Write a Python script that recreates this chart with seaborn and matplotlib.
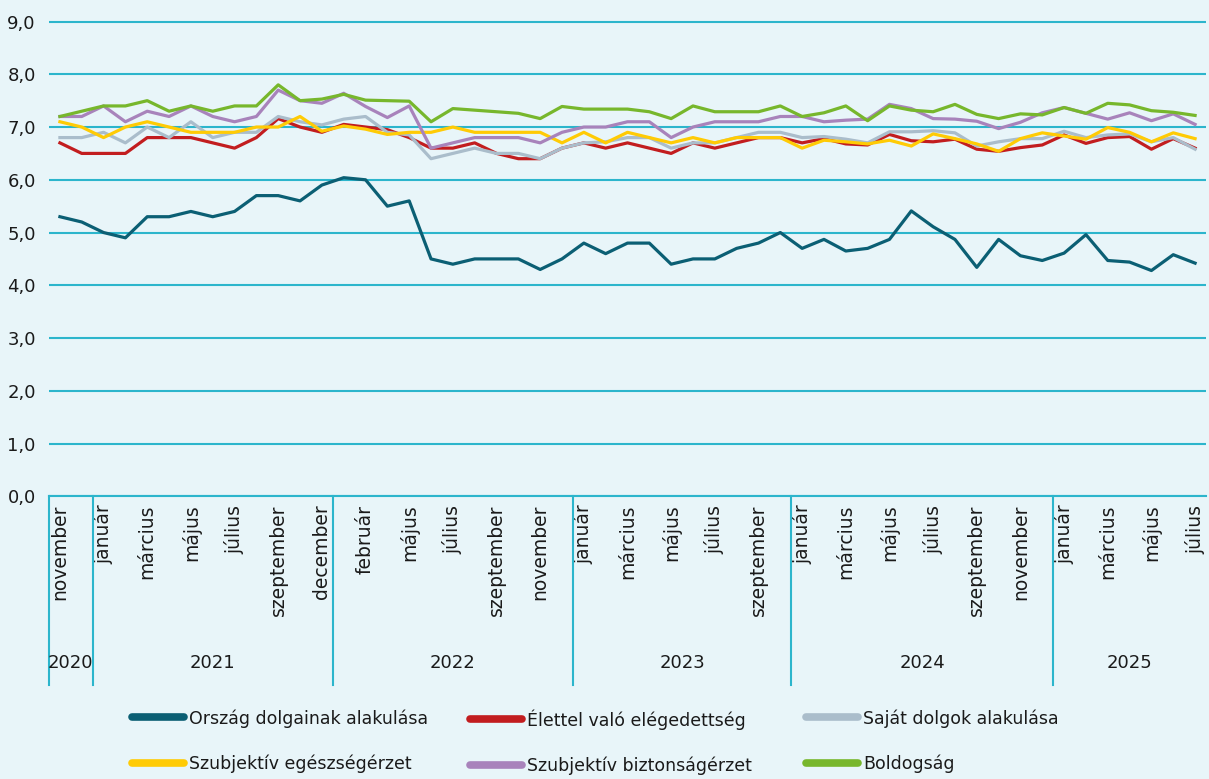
import pandas as pd
import matplotlib.pyplot as plt
import seaborn as sns
from matplotlib.lines import Line2D
import matplotlib.transforms as mtransforms

# honapok evenkent (kategoria tengely)
honap_2020 = ['november', 'december']
honap_2021 = ['január', 'február', 'március', 'április', 'május', 'június',
              'július', 'augusztus', 'szeptember', 'november', 'december']
honap_2022 = ['január', 'február', 'március', 'május', 'június', 'július',
              'augusztus', 'szeptember', 'október', 'november', 'december']
honap_2023 = ['január', 'február', 'március', 'április', 'május', 'június',
              'július', 'augusztus', 'szeptember', 'október']
honap_2024 = ['január', 'február', 'március', 'április', 'május', 'június',
              'július', 'augusztus', 'szeptember', 'október', 'november', 'december']
honap_2025 = ['január', 'február', 'március', 'április', 'május', 'június', 'július']
evek = ['2020', '2021', '2022', '2023', '2024', '2025']

orszag = [5.3, 5.2, 5.0, 4.9, 5.3, 5.3, 5.4, 5.3, 5.4, 5.7, 5.7, 5.6, 5.9,
          6.04, 6.0, 5.5, 5.6, 4.5, 4.4, 4.5, 4.5, 4.5, 4.3, 4.5, 4.8, 4.6,
          4.8, 4.8, 4.4, 4.5, 4.5, 4.7, 4.8, 5.0, 4.7, 4.87, 4.65, 4.7, 4.87,
          5.41, 5.11, 4.87, 4.34, 4.87, 4.56, 4.47, 4.61, 4.96, 4.47, 4.44,
          4.28, 4.58, 4.42]
elet = [6.7, 6.5, 6.5, 6.5, 6.8, 6.8, 6.8, 6.7, 6.6, 6.8, 7.16, 7.0, 6.9,
        7.05, 7.0, 6.95, 6.8, 6.6, 6.6, 6.7, 6.5, 6.4, 6.4, 6.6, 6.7, 6.6,
        6.7, 6.6, 6.5, 6.7, 6.6, 6.7, 6.8, 6.8, 6.7, 6.78, 6.68, 6.66, 6.86,
        6.74, 6.72, 6.77, 6.58, 6.54, 6.61, 6.66, 6.85, 6.69, 6.8, 6.82,
        6.58, 6.78, 6.6]
sajat = [6.8, 6.8, 6.9, 6.7, 7.0, 6.8, 7.1, 6.8, 6.9, 6.9, 7.2, 7.1, 7.04,
         7.15, 7.2, 6.9, 6.85, 6.4, 6.5, 6.6, 6.5, 6.5, 6.4, 6.6, 6.7, 6.72,
         6.8, 6.8, 6.6, 6.7, 6.7, 6.8, 6.9, 6.9, 6.8, 6.82, 6.77, 6.7, 6.91,
         6.91, 6.93, 6.89, 6.64, 6.72, 6.78, 6.78, 6.92, 6.8, 6.85, 6.87,
         6.72, 6.8, 6.58]
egeszseg = [7.1, 7.0, 6.8, 7.0, 7.1, 7.0, 6.9, 6.9, 6.9, 7.0, 7.0, 7.2, 6.92,
            7.02, 6.96, 6.86, 6.9, 6.9, 7.0, 6.9, 6.9, 6.9, 6.9, 6.7, 6.9, 6.7,
            6.9, 6.8, 6.7, 6.8, 6.7, 6.8, 6.8, 6.8, 6.6, 6.75, 6.72, 6.68, 6.75,
            6.64, 6.87, 6.78, 6.68, 6.54, 6.78, 6.89, 6.83, 6.77, 6.99, 6.9,
            6.72, 6.89, 6.78]
biztonsag = [7.2, 7.2, 7.4, 7.1, 7.3, 7.2, 7.4, 7.2, 7.1, 7.2, 7.7, 7.5, 7.45,
             7.64, 7.39, 7.18, 7.4, 6.6, 6.7, 6.8, 6.8, 6.8, 6.7, 6.9, 7.0, 7.0,
             7.1, 7.1, 6.8, 7.0, 7.1, 7.1, 7.1, 7.2, 7.2, 7.1, 7.13, 7.15, 7.43,
             7.35, 7.16, 7.15, 7.11, 6.97, 7.09, 7.27, 7.37, 7.26, 7.15, 7.27,
             7.12, 7.25, 7.05]
boldogsag = [7.2, 7.3, 7.4, 7.4, 7.5, 7.3, 7.4, 7.3, 7.4, 7.4, 7.8, 7.5, 7.53,
             7.62, 7.51, 7.5, 7.49, 7.1, 7.35, 7.32, 7.29, 7.26, 7.16, 7.39, 7.34,
             7.34, 7.34, 7.29, 7.16, 7.4, 7.29, 7.29, 7.29, 7.4, 7.2, 7.27, 7.4,
             7.12, 7.4, 7.32, 7.29, 7.43, 7.24, 7.16, 7.25, 7.23, 7.37, 7.26,
             7.45, 7.42, 7.31, 7.28, 7.22]

sorozatok = ['Ország dolgainak alakulása', 'Élettel való elégedettség',
             'Saját dolgok alakulása', 'Szubjektív egészségérzet',
             'Szubjektív biztonságérzet', 'Boldogság']
szinek = ['#0b5f74', '#c21d1f', '#aabdcb', '#ffcb05', '#a883bb', '#77b72c']

bg = '#e8f5f9'
racs = '#2cb5cc'

honapok = honap_2020 + honap_2021 + honap_2022 + honap_2023 + honap_2024 + honap_2025
ev_hossz = [len(honap_2020), len(honap_2021), len(honap_2022),
            len(honap_2023), len(honap_2024), len(honap_2025)]

rows = []
for nev, ertekek in zip(sorozatok, [orszag, elet, sajat, egeszseg, biztonsag, boldogsag]):
	for i, v in enumerate(ertekek):
		rows.append({'idx': i, 'ertek': v, 'sorozat': nev})
df = pd.DataFrame(rows)

plt.rcParams['font.family'] = ['DejaVu Sans']
fig = plt.figure(figsize=(12.09, 7.79), dpi=100, facecolor=bg)
ax = fig.add_axes([49 / 1209, (779 - 496.3) / 779, 1157 / 1209, 477.4 / 779])
ax.set_facecolor(bg)

sns.lineplot(data=df, x='idx', y='ertek', hue='sorozat', hue_order=sorozatok,
             palette=szinek, linewidth=2.3, legend=False, sort=False, ax=ax)

n = len(honapok)
ax.set_xlim(-0.5, n - 0.5)
ax.set_ylim(0, 9.05)
ax.set_yticks(range(10))
ax.set_yticklabels([f'{v:.1f}'.replace('.', ',') for v in range(10)])
ax.yaxis.grid(True, color=racs, linewidth=1.5)
ax.xaxis.grid(False)
ax.set_axisbelow(True)
ax.set_xlabel('')
ax.set_ylabel('')

ax.set_xticks(range(0, n, 2))
ax.set_xticklabels(honapok[::2], rotation=90)
ax.tick_params(axis='x', length=0, pad=6, labelsize=13.5, colors='#1a1a1a')
ax.tick_params(axis='y', length=0, pad=9.5, labelsize=13, colors='#1a1a1a')

for s in ['left', 'top', 'right']:
	ax.spines[s].set_visible(False)
ax.spines['bottom'].set_color(racs)
ax.spines['bottom'].set_linewidth(1.5)

# evek es elvalaszto vonalak
trans = mtransforms.blended_transform_factory(ax.transData, ax.transAxes)
start = 0
for ev, h in zip(evek, ev_hossz):
	ax.plot([start - 0.5, start - 0.5], [0, -0.395], color=racs, lw=1.5,
	        transform=trans, clip_on=False)
	ax.text(start - 0.5 + h / 2, -0.349, ev, transform=trans, ha='center',
	        va='center', fontsize=13, color='#1a1a1a')
	start += h

# jelmagyarazat: harom oszlop, soronkent
handles = [Line2D([0], [0], color=c, lw=5.5, solid_capstyle='round') for c in szinek]
oszlop_x = [132 / 1209, 470 / 1209, 806 / 1209]
for k in range(3):
	hs = [handles[k], handles[k + 3]]
	ls = [sorozatok[k], sorozatok[k + 3]]
	leg = fig.legend(hs, ls, loc='upper left', bbox_to_anchor=(oszlop_x[k], 1 - 709 / 779),
	                 frameon=False, fontsize=12.5, handlelength=3.0, handletextpad=0.3,
	                 labelspacing=1.58, borderpad=0, borderaxespad=0)
	for t in leg.get_texts():
		t.set_color('#1a1a1a')

fig.savefig('out.png', dpi=100, facecolor=bg)
